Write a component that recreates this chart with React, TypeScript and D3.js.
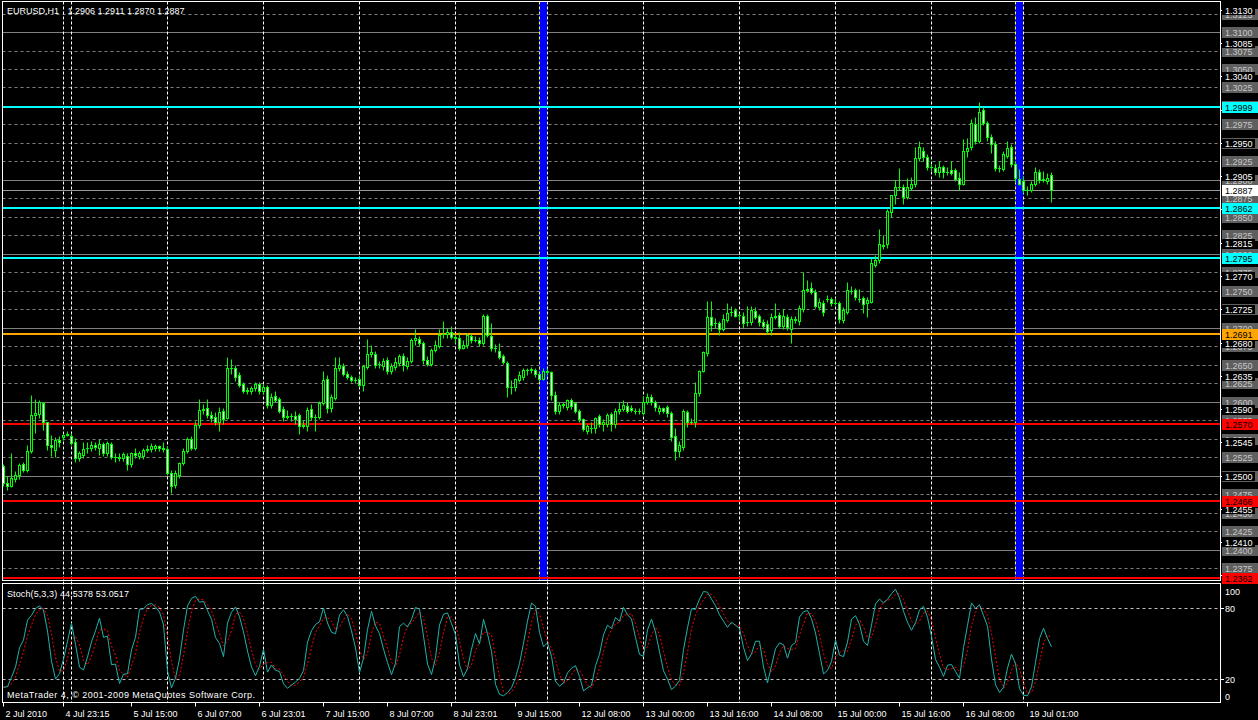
import React from 'react';
import * as d3 from 'd3';

// EURUSD H1 candles, values in points above 1.2000 (1 point = 0.0001)
const opens = [513,490,486,496,501,516,507,534,582,584,598,572,542,535,548,552,555,553,546,524,528,537,537,541,537,543,530,543,525,525,524,527,516,530,526,526,535,536,537,540,536,536,503,488,501,517,533,549,538,569,589,592,582,579,572,588,578,645,645,636,624,615,614,618,624,615,620,596,608,604,590,580,581,581,582,567,567,590,580,580,598,631,591,605,645,648,638,633,629,631,622,647,665,665,651,648,657,642,647,652,662,648,655,684,685,679,656,651,670,676,691,691,694,688,686,673,677,689,683,683,679,716,689,672,668,662,653,620,620,630,634,643,643,643,637,631,642,640,609,587,596,593,602,598,588,576,561,565,564,581,570,570,584,570,587,590,594,592,587,587,585,600,607,600,588,591,593,585,553,534,539,586,573,573,612,642,666,715,706,706,698,711,722,724,717,716,708,708,723,716,708,705,697,715,717,702,715,698,712,709,726,751,754,749,728,733,739,739,734,733,711,722,750,751,739,740,733,735,785,791,812,813,857,879,890,890,877,889,895,929,939,931,917,916,911,917,911,914,913,903,895,939,944,976,953,994,977,958,949,916,915,933,944,922,901,898,886,887,895,911,900,899,906];
const highs = [516,499,531,506,517,518,541,609,604,602,600,573,555,552,554,557,561,558,551,534,545,545,547,545,549,546,547,545,531,530,532,530,532,537,533,538,542,544,543,542,545,540,508,508,519,537,552,553,574,604,597,604,588,586,593,591,660,658,650,640,627,620,621,627,627,624,623,612,615,607,594,589,585,588,585,575,593,597,583,601,642,636,610,661,661,653,642,636,634,636,649,685,677,668,655,659,661,653,660,664,666,660,686,698,689,682,662,673,683,698,709,700,702,692,694,684,693,693,689,687,719,718,706,678,680,665,655,630,632,641,645,646,647,646,640,645,646,642,614,599,600,604,605,600,590,578,570,572,580,583,576,585,586,592,600,603,599,595,591,591,608,612,611,603,595,593,595,588,565,547,590,589,578,627,643,668,736,736,713,709,718,734,729,727,720,721,730,730,728,719,712,710,720,734,722,725,718,716,716,731,776,765,762,752,740,738,745,742,740,736,728,762,756,754,752,743,741,794,798,833,825,861,880,900,916,894,903,904,944,952,945,935,922,921,925,920,918,926,916,911,955,957,983,985,1005,998,980,962,953,920,939,952,948,925,915,905,892,898,918,915,912,910,911];
const lows = [486,481,484,492,495,505,505,531,558,578,562,535,526,525,539,548,553,542,518,520,524,530,533,535,528,527,527,522,519,520,520,508,512,524,522,523,532,532,534,533,532,501,477,483,497,514,530,535,535,565,583,578,573,568,561,570,576,638,628,620,612,611,610,614,610,611,592,592,600,585,574,576,574,570,557,564,560,575,561,577,595,585,586,602,641,635,631,627,625,620,615,644,660,645,646,643,637,638,643,648,641,644,652,677,675,651,648,648,667,672,686,686,685,680,670,671,673,680,681,676,677,687,668,667,658,651,606,611,615,626,630,636,639,634,628,629,636,603,583,584,592,589,590,585,572,561,557,558,558,566,561,566,560,565,584,587,585,586,583,584,582,597,595,588,584,585,580,547,521,525,535,566,570,566,608,640,662,696,700,690,695,708,716,714,710,700,703,704,712,703,698,692,690,712,700,698,697,680,706,704,722,748,746,727,724,716,735,730,731,706,707,718,746,738,735,720,715,733,782,788,806,808,850,868,887,867,874,886,890,925,926,914,912,906,904,902,906,906,898,887,893,931,940,948,950,974,952,936,912,911,912,930,918,897,893,882,880,884,892,896,897,895,870];
const closes = [490,486,497,501,515,507,534,582,585,600,573,542,539,548,546,555,557,544,524,530,536,537,541,539,543,530,544,525,525,524,529,516,530,528,531,535,536,540,540,537,537,503,486,504,517,533,550,538,569,589,590,582,578,573,586,577,645,646,633,623,615,616,618,624,615,620,595,607,603,588,580,581,581,577,567,569,589,579,580,598,630,591,607,645,650,638,634,629,629,622,648,665,667,650,651,655,641,648,654,662,649,655,684,686,679,656,651,670,677,690,691,694,688,686,673,677,690,683,684,679,716,690,672,672,661,654,620,620,631,636,643,643,644,637,631,642,640,609,588,596,597,603,594,588,576,563,567,565,578,570,572,582,570,587,590,596,588,589,587,587,600,607,600,593,592,587,585,552,534,542,587,572,573,612,641,667,715,704,706,698,712,720,722,716,717,707,708,724,715,708,703,696,715,716,703,716,701,712,710,727,751,752,749,729,735,721,739,734,734,712,724,751,750,741,739,732,737,787,791,813,811,858,879,891,890,877,891,894,929,944,931,918,917,911,917,911,911,910,901,895,939,943,977,952,992,977,958,949,916,916,935,943,922,903,895,886,886,895,911,900,901,903,887];

// time axis labels (bar index, text)
const timeLabelBars = [0, 15, 32, 48, 64, 80, 96, 112, 128, 144, 160, 176, 192, 208, 224, 240, 256];
const timeLabelTexts = ['2 Jul 2010', '4 Jul 23:15', '5 Jul 15:00', '6 Jul 07:00', '6 Jul 23:01', '7 Jul 15:00', '8 Jul 07:00', '8 Jul 23:01', '9 Jul 15:00', '12 Jul 08:00', '13 Jul 00:00', '13 Jul 16:00', '14 Jul 08:00', '15 Jul 00:00', '15 Jul 16:00', '16 Jul 08:00', '19 Jul 01:00'];
// day separators (bar index)
const separatorBars = [15, 17, 41, 65, 89, 113, 136, 160, 184, 208, 232, 255];
// thick blue vertical lines (bar index) and yellow dashed ones
const blueLineBars = [135, 254];
const yellowLineBars = [134, 253];

// gray horizontal level lines
const grayLevels = [1.3125, 1.3100, 1.3075, 1.3050, 1.3025, 1.3000, 1.2975, 1.2950, 1.2925, 1.2900, 1.2875, 1.2850, 1.2825, 1.2800, 1.2775, 1.2750, 1.2725, 1.2700, 1.2675, 1.2650, 1.2625, 1.2600, 1.2575, 1.2550, 1.2525, 1.2500, 1.2475, 1.2450, 1.2425, 1.2400, 1.2375];
// price scale ticks
const scaleTicks = [1.3130, 1.3085, 1.3040, 1.2995, 1.2950, 1.2905, 1.2860, 1.2815, 1.2770, 1.2725, 1.2680, 1.2635, 1.2590, 1.2545, 1.2500, 1.2455, 1.2410, 1.2365];
// coloured levels
const levelPrices = [1.2999, 1.2862, 1.2795, 1.2691, 1.2570, 1.2466, 1.2362];
const levelColors = ['#00ffff', '#00ffff', '#00ffff', '#ffa500', '#ff0000', '#ff0000', '#ff0000'];
const currentPrice = 1.2887;
const stochLevels = [80, 20];
const stochScaleLabels = [100, 80, 20, 0];

const FONT = '"Liberation Sans", Arial, sans-serif';
const W = 1258, H = 720;
const L = 2.5, R = 1220.5, MT = 1.5, MB = 580.5, ST = 583.5, SB = 702.5;

const px = (v: number) => 1.2 + v / 10000;

export default function App() {
  const x = d3.scaleLinear().domain([0, 262]).range([3.5, 1051.5]);
  const y = d3.scaleLinear().domain([1.2362, 1.2999]).range([577.7, 106.7]);
  const ys = d3.scaleLinear().domain([0, 100]).range([703, 584.7]);
  const cx = (i: number) => Math.floor(x(i)) + 0.5;
  const ry = (p: number) => Math.round(y(p)) + 0.5;

  // labels fully covered by a coloured label are not visible
  const coveredBy = (p: number, list: number[], tol: number) => list.some((q) => Math.abs(y(q) - y(p)) < tol);
  const topLabels = [...levelPrices, currentPrice];

  // Stochastic(5,3,3) computed from the OHLC series
  const kVals: number[] = closes.map((_, i) => {
    let num = 0, den = 0;
    for (let j = i - 2; j <= i; j++) {
      if (j < 0) continue;
      const from = Math.max(0, j - 4);
      const hh = d3.max(highs.slice(from, j + 1)) as number;
      const ll = d3.min(lows.slice(from, j + 1)) as number;
      num += closes[j] - ll;
      den += hh - ll;
    }
    return den ? (100 * num) / den : 50;
  });
  const dVals: number[] = kVals.map((_, i) => d3.mean(kVals.slice(Math.max(0, i - 2), i + 1)) as number);
  const lineK = d3.line<number>().x((_, i) => x(i)).y((v) => ys(v));

  return (
    <svg width={W} height={H} style={{ position: 'fixed', left: 0, top: 0, background: '#000' }} fontFamily={FONT}>
      <rect x={0} y={0} width={W} height={H} fill="#000" />
      <defs>
        <clipPath id="mainClip"><rect x={L} y={MT} width={R - L} height={MB - MT} /></clipPath>
        <clipPath id="subClip"><rect x={L} y={ST} width={R - L} height={SB - ST} /></clipPath>
      </defs>

      {/* gray level lines */}
      <g clipPath="url(#mainClip)">
        {grayLevels.map((p) => {
          const solid = Math.round(p * 10000) % 100 === 0;
          return <line key={p} x1={L} x2={R} y1={ry(p)} y2={ry(p)} stroke="#808080" strokeWidth={1} strokeDasharray={solid ? undefined : '3,3'} />;
        })}
        <line x1={L} x2={R} y1={ry(currentPrice)} y2={ry(currentPrice)} stroke="#9a9a9a" strokeWidth={1} />
      </g>

      {/* blue vertical lines */}
      <g clipPath="url(#mainClip)">
        {blueLineBars.map((b) => (
          <rect key={b} x={Math.floor(x(b)) - 4} y={MT} width={8} height={MB - MT} fill="#0000ff" />
        ))}
        {yellowLineBars.map((b) => (
          <line key={b} x1={cx(b)} x2={cx(b)} y1={MT} y2={MB} stroke="#ffff00" strokeDasharray="3,2" />
        ))}
      </g>

      {/* separators */}
      {separatorBars.map((b) => (
        <line key={b} x1={cx(b)} x2={cx(b)} y1={MT} y2={SB} stroke="#ffffff" strokeDasharray="3,2" />
      ))}

      {/* coloured level lines */}
      <g clipPath="url(#mainClip)">
        {levelPrices.map((p, k) => (
          <line key={p} x1={L} x2={R} y1={Math.round(y(p))} y2={Math.round(y(p))} stroke={levelColors[k]} strokeWidth={2} />
        ))}
      </g>

      {/* candles */}
      <g clipPath="url(#mainClip)">
        {closes.map((c, i) => {
          const o = opens[i];
          const X = cx(i);
          const top = ry(px(Math.max(o, c)));
          const bot = ry(px(Math.min(o, c)));
          const bull = c >= o;
          return (
            <g key={i}>
              <line x1={X} x2={X} y1={ry(px(highs[i]))} y2={ry(px(lows[i]))} stroke="#00ff00" />
              {bot - top < 1 ? (
                <line x1={X - 1.5} x2={X + 1.5} y1={top} y2={top} stroke="#00ff00" />
              ) : (
                <rect x={X - 1} y={top} width={2} height={bot - top} fill={bull ? '#000000' : '#ffffff'} stroke="#00ff00" strokeWidth={1} />
              )}
            </g>
          );
        })}
      </g>

      {/* stochastic */}
      <g clipPath="url(#subClip)">
        {stochLevels.map((v) => (
          <line key={v} x1={L} x2={R} y1={Math.round(ys(v)) + 0.5} y2={Math.round(ys(v)) + 0.5} stroke="#c0c0c0" strokeDasharray="3,3" />
        ))}
        <path d={lineK(dVals) || ''} fill="none" stroke="#ff0000" strokeWidth={1} strokeDasharray="2,2" />
        <path d={lineK(kVals) || ''} fill="none" stroke="#20b2aa" strokeWidth={1} />
      </g>

      {/* frames */}
      <rect x={L} y={MT} width={R - L} height={MB - MT} fill="none" stroke="#ffffff" />
      <rect x={L} y={ST} width={R - L} height={SB - ST} fill="none" stroke="#ffffff" />

      {/* price scale: gray boxes */}
      {grayLevels.map((p) => {
        const cy = Math.round(y(p));
        const hidden = coveredBy(p, topLabels, 2.5);
        return (
          <g key={'g' + p}>
            <rect x={1222} y={cy - 5} width={36} height={11} fill="#5f5f5f" />
            {!hidden && <text x={1225} y={cy + 4} fontSize={9} fill="#c8c8c8">{p.toFixed(4)}</text>}
          </g>
        );
      })}
      {/* price scale ticks */}
      {scaleTicks.map((p) => {
        const cy = Math.round(y(p));
        const hidden = coveredBy(p, topLabels, 3);
        return (
          <g key={'t' + p}>
            <line x1={1220} x2={1224} y1={cy + 0.5} y2={cy + 0.5} stroke="#fff" />
            {!hidden && <rect x={1222} y={cy - 4} width={33} height={9} fill="#000" />}
            {!hidden && <text x={1225} y={cy + 4} fontSize={9} fill="#ffffff">{p.toFixed(4)}</text>}
          </g>
        );
      })}
      {/* coloured labels */}
      {levelPrices.map((p, k) => {
        const cy = Math.round(y(p));
        return (
          <g key={'c' + p}>
            <rect x={1222} y={cy - 5} width={36} height={11} fill={levelColors[k]} />
            <text x={1225} y={cy + 4} fontSize={9} fill="#000">{p.toFixed(4)}</text>
          </g>
        );
      })}
      <g>
        <rect x={1222} y={Math.round(y(currentPrice)) - 5} width={36} height={11} fill="#ffffff" />
        <text x={1225} y={Math.round(y(currentPrice)) + 4} fontSize={9} fill="#000">{currentPrice.toFixed(4)}</text>
      </g>

      {/* stoch scale */}
      {stochScaleLabels.map((v) => {
        const cy = ys(v);
        const ty = v === 100 ? cy + 10 : v === 0 ? cy - 3 : cy + 4;
        return (
          <g key={'s' + v}>
            {(v === 80 || v === 20) && <line x1={1220} x2={1224} y1={Math.round(cy) + 0.5} y2={Math.round(cy) + 0.5} stroke="#fff" />}
            <text x={1225} y={ty} fontSize={9} fill="#ffffff">{v}</text>
          </g>
        );
      })}

      {/* time axis */}
      <line x1={L} x2={R} y1={SB} y2={SB} stroke="#fff" />
      {timeLabelBars.map((b, k) => (
        <g key={'x' + b}>
          <line x1={cx(b)} x2={cx(b)} y1={SB} y2={SB + 4} stroke="#fff" />
          <text x={cx(b) + 2} y={717} fontSize={9} fill="#ffffff">{timeLabelTexts[k]}</text>
        </g>
      ))}

      {/* titles */}
      <text x={7} y={14} fontSize={9} fill="#ffffff">EURUSD,H1</text>
      <text x={67.5} y={14} fontSize={9} fill="#ffffff">1.2906 1.2911 1.2870 1.2887</text>
      <text x={7} y={597} fontSize={9} fill="#ffffff" textLength={122} lengthAdjust="spacing">Stoch(5,3,3) 44.5378 53.0517</text>
      <text x={7} y={698} fontSize={9} fill="#ffffff" textLength={248} lengthAdjust="spacing">MetaTrader 4, © 2001-2009 MetaQuotes Software Corp.</text>
    </svg>
  );
}
